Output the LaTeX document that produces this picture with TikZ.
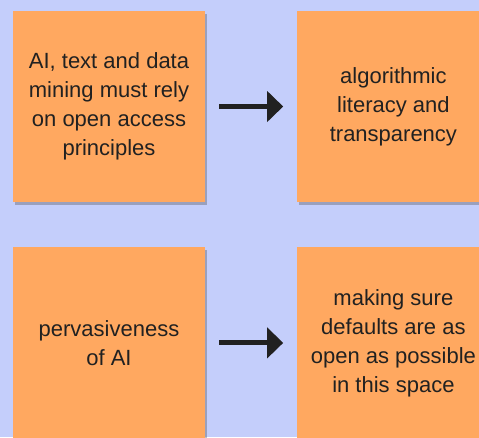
\documentclass[tikz,border=0pt]{standalone}
\usepackage{fontspec}
\setmainfont{Liberation Sans}
\usetikzlibrary{arrows.meta, positioning, shadows}
\definecolor{background}{RGB}{196,206,251}
\definecolor{note}{RGB}{255,168,96}
\definecolor{ink}{RGB}{33,33,33}

\begin{document}
\begin{tikzpicture}[x=1pt, y=1pt, node distance = 92pt]
		% Define elements
		\tikzstyle{line} = [draw, ink, line width=5pt, -{Triangle[length=16pt, width=30pt]}, shorten <=14pt, shorten >=14pt]
		\tikzstyle{note} = [rectangle, fill=note, text=ink, align=center, minimum width=192pt, minimum height=191pt,
		    font=\fontsize{22}{29}\selectfont, drop shadow={shadow xshift=2pt, shadow yshift=-3pt, opacity=0.35, fill=black!70}]
		\useasboundingbox (0,0) rectangle (479,-437);
		\fill[background] (0,0) rectangle (479,-437);
		%% Top row
		\node [name = mining, note] at (109,-106.5) {AI, text and data\\mining must rely\\on open access\\principles};
		\node [name = literacy, note, right=of mining] {algorithmic\\literacy and\\transparency};
		%% Bottom row
		\node [name = ai, note, below=45pt of mining] {pervasiveness\\of AI};
		\node [name = defaults, note, right=of ai] {making sure\\defaults are as\\open as possible\\in this space};
	% arrows
		\path [line] (mining) -- (literacy);
		\path [line] (ai) -- (defaults);
	\end{tikzpicture}
\end{document}
